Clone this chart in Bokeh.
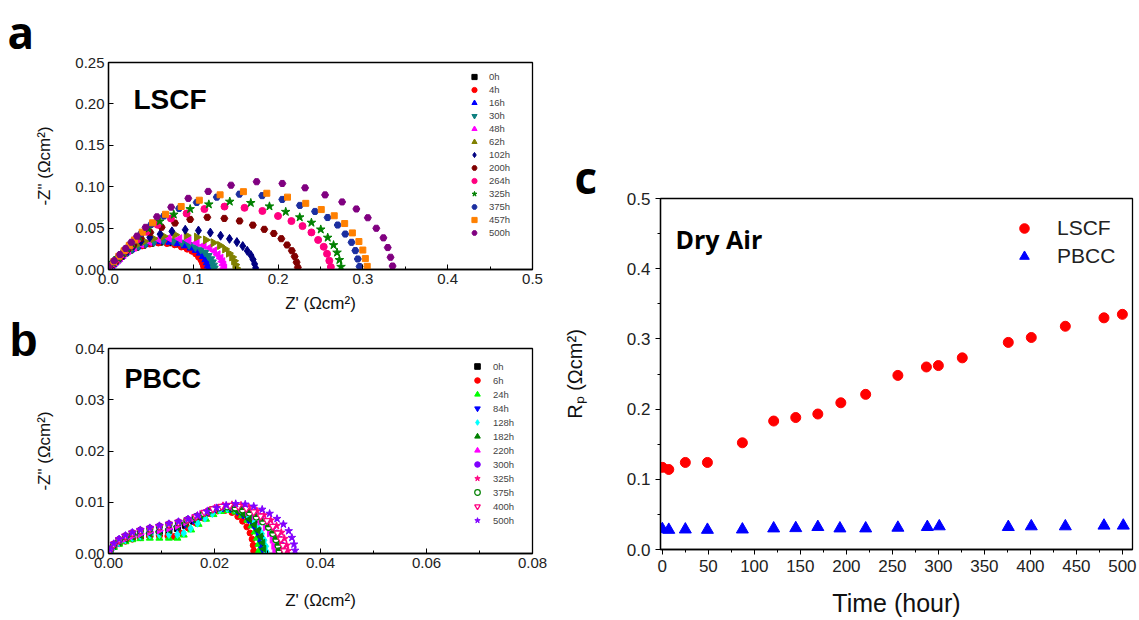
import math
from bokeh.plotting import figure
from bokeh.models import Range1d, SingleIntervalTicker, NumeralTickFormatter, Legend, LegendItem, Label
from bokeh.layouts import row, column
from bokeh.embed import file_html
from bokeh.resources import INLINE

# ---------------- Panel a : LSCF impedance spectra (Z', -Z'') ----------------
a_labels = ["0h", "4h", "16h", "30h", "48h", "62h", "102h", "200h", "264h", "325h", "375h", "457h", "500h"]

a_zr_0h = [0, 0.0023, 0.0046, 0.0070, 0.0093, 0.0116, 0.0151, 0.0197, 0.0255, 0.0325, 0.0406, 0.0499, 0.0603, 0.0708, 0.0800, 0.0882, 0.0951, 0.1009, 0.1056, 0.1090, 0.1119, 0.1137, 0.1148, 0.1157]
a_zi_0h = [0.0010, 0.0033, 0.0056, 0.0079, 0.0102, 0.0125, 0.0158, 0.0198, 0.0234, 0.0267, 0.0294, 0.0317, 0.0330, 0.0323, 0.0307, 0.0281, 0.0254, 0.0228, 0.0195, 0.0155, 0.0119, 0.0083, 0.0046, 0.0013]
a_zr_4h = [0, 0.0023, 0.0045, 0.0068, 0.0090, 0.0113, 0.0147, 0.0192, 0.0249, 0.0316, 0.0396, 0.0486, 0.0588, 0.0689, 0.0780, 0.0859, 0.0927, 0.0983, 0.1028, 0.1062, 0.1090, 0.1107, 0.1119, 0.1127]
a_zi_4h = [0.0010, 0.0032, 0.0054, 0.0077, 0.0099, 0.0122, 0.0154, 0.0192, 0.0227, 0.0259, 0.0285, 0.0307, 0.0320, 0.0314, 0.0298, 0.0272, 0.0246, 0.0221, 0.0189, 0.0150, 0.0115, 0.0080, 0.0045, 0.0013]
a_zr_16h = [0, 0.0024, 0.0048, 0.0071, 0.0095, 0.0119, 0.0155, 0.0202, 0.0262, 0.0333, 0.0417, 0.0512, 0.0619, 0.0726, 0.0821, 0.0904, 0.0976, 0.1035, 0.1083, 0.1119, 0.1148, 0.1166, 0.1178, 0.1186]
a_zi_16h = [0.0010, 0.0034, 0.0058, 0.0082, 0.0105, 0.0129, 0.0163, 0.0204, 0.0241, 0.0275, 0.0303, 0.0326, 0.0340, 0.0333, 0.0316, 0.0289, 0.0262, 0.0235, 0.0201, 0.0160, 0.0122, 0.0085, 0.0048, 0.0014]
a_zr_30h = [0, 0.0025, 0.0050, 0.0075, 0.0100, 0.0125, 0.0163, 0.0213, 0.0275, 0.0350, 0.0438, 0.0538, 0.0650, 0.0763, 0.0863, 0.0950, 0.1025, 0.1088, 0.1138, 0.1175, 0.1206, 0.1225, 0.1238, 0.1246]
a_zi_30h = [0.0011, 0.0035, 0.0060, 0.0084, 0.0109, 0.0133, 0.0168, 0.0210, 0.0249, 0.0284, 0.0312, 0.0336, 0.0350, 0.0343, 0.0326, 0.0298, 0.0270, 0.0242, 0.0207, 0.0165, 0.0126, 0.0088, 0.0049, 0.0014]
a_zr_48h = [0, 0.0027, 0.0055, 0.0082, 0.0110, 0.0137, 0.0178, 0.0233, 0.0301, 0.0384, 0.0480, 0.0589, 0.0712, 0.0836, 0.0945, 0.1041, 0.1123, 0.1192, 0.1247, 0.1288, 0.1322, 0.1343, 0.1356, 0.1366]
a_zi_48h = [0.0011, 0.0038, 0.0065, 0.0091, 0.0118, 0.0144, 0.0182, 0.0228, 0.0270, 0.0308, 0.0338, 0.0365, 0.0380, 0.0372, 0.0353, 0.0323, 0.0293, 0.0262, 0.0224, 0.0179, 0.0137, 0.0095, 0.0053, 0.0015]
a_zr_62h = [0, 0.0030, 0.0060, 0.0091, 0.0121, 0.0151, 0.0196, 0.0257, 0.0332, 0.0423, 0.0529, 0.0649, 0.0785, 0.0921, 0.1042, 0.1148, 0.1238, 0.1314, 0.1374, 0.1419, 0.1457, 0.1480, 0.1495, 0.1505]
a_zi_62h = [0.0013, 0.0042, 0.0071, 0.0101, 0.0130, 0.0160, 0.0202, 0.0252, 0.0298, 0.0340, 0.0374, 0.0403, 0.0420, 0.0412, 0.0391, 0.0357, 0.0323, 0.0290, 0.0248, 0.0197, 0.0151, 0.0105, 0.0059, 0.0017]
a_zr_102h = [0, 0.0035, 0.0070, 0.0104, 0.0139, 0.0174, 0.0226, 0.0296, 0.0383, 0.0487, 0.0609, 0.0748, 0.0905, 0.1061, 0.1201, 0.1322, 0.1427, 0.1514, 0.1583, 0.1636, 0.1679, 0.1705, 0.1723, 0.1735]
a_zi_102h = [0.0014, 0.0048, 0.0082, 0.0115, 0.0149, 0.0182, 0.0230, 0.0288, 0.0341, 0.0389, 0.0427, 0.0461, 0.0480, 0.0470, 0.0446, 0.0408, 0.0370, 0.0331, 0.0283, 0.0226, 0.0173, 0.0120, 0.0067, 0.0019]
a_zr_200h = [0, 0.0045, 0.0090, 0.0134, 0.0179, 0.0224, 0.0291, 0.0381, 0.0493, 0.0627, 0.0784, 0.0963, 0.1165, 0.1366, 0.1546, 0.1702, 0.1837, 0.1949, 0.2038, 0.2106, 0.2162, 0.2195, 0.2218, 0.2233]
a_zi_200h = [0.0019, 0.0063, 0.0107, 0.0151, 0.0195, 0.0239, 0.0302, 0.0378, 0.0447, 0.0510, 0.0561, 0.0605, 0.0630, 0.0617, 0.0586, 0.0536, 0.0485, 0.0435, 0.0372, 0.0296, 0.0227, 0.0158, 0.0088, 0.0025]
a_zr_264h = [0, 0.0053, 0.0105, 0.0158, 0.0210, 0.0263, 0.0342, 0.0447, 0.0579, 0.0736, 0.0921, 0.1131, 0.1368, 0.1604, 0.1815, 0.1999, 0.2157, 0.2288, 0.2393, 0.2472, 0.2538, 0.2577, 0.2604, 0.2622]
a_zi_264h = [0.0023, 0.0076, 0.0129, 0.0182, 0.0236, 0.0289, 0.0365, 0.0456, 0.0540, 0.0616, 0.0676, 0.0730, 0.0760, 0.0745, 0.0707, 0.0646, 0.0585, 0.0524, 0.0448, 0.0357, 0.0274, 0.0190, 0.0106, 0.0030]
a_zr_325h = [0, 0.0055, 0.0110, 0.0165, 0.0220, 0.0275, 0.0358, 0.0468, 0.0605, 0.0770, 0.0963, 0.1183, 0.1430, 0.1678, 0.1898, 0.2090, 0.2255, 0.2393, 0.2503, 0.2585, 0.2654, 0.2695, 0.2723, 0.2742]
a_zi_325h = [0.0025, 0.0082, 0.0139, 0.0197, 0.0254, 0.0312, 0.0394, 0.0492, 0.0582, 0.0664, 0.0730, 0.0787, 0.0820, 0.0804, 0.0763, 0.0697, 0.0631, 0.0566, 0.0484, 0.0385, 0.0295, 0.0205, 0.0115, 0.0033]
a_zr_375h = [0, 0.0059, 0.0119, 0.0178, 0.0238, 0.0297, 0.0386, 0.0505, 0.0653, 0.0832, 0.1040, 0.1277, 0.1544, 0.1812, 0.2049, 0.2257, 0.2435, 0.2584, 0.2703, 0.2792, 0.2866, 0.2911, 0.2940, 0.2961]
a_zi_375h = [0.0027, 0.0091, 0.0155, 0.0218, 0.0282, 0.0346, 0.0437, 0.0546, 0.0646, 0.0737, 0.0810, 0.0874, 0.0910, 0.0892, 0.0846, 0.0774, 0.0701, 0.0628, 0.0537, 0.0428, 0.0328, 0.0228, 0.0127, 0.0036]
a_zr_457h = [0, 0.0061, 0.0122, 0.0184, 0.0245, 0.0306, 0.0398, 0.0520, 0.0673, 0.0857, 0.1071, 0.1316, 0.1591, 0.1867, 0.2111, 0.2326, 0.2509, 0.2662, 0.2785, 0.2876, 0.2953, 0.2999, 0.3029, 0.3051]
a_zi_457h = [0.0028, 0.0094, 0.0160, 0.0226, 0.0291, 0.0357, 0.0451, 0.0564, 0.0667, 0.0761, 0.0837, 0.0902, 0.0940, 0.0921, 0.0874, 0.0799, 0.0724, 0.0649, 0.0555, 0.0442, 0.0338, 0.0235, 0.0132, 0.0038]
a_zr_500h = [0, 0.0067, 0.0134, 0.0202, 0.0269, 0.0336, 0.0437, 0.0571, 0.0739, 0.0941, 0.1176, 0.1445, 0.1747, 0.2050, 0.2318, 0.2554, 0.2755, 0.2923, 0.3058, 0.3158, 0.3242, 0.3293, 0.3326, 0.3350]
a_zi_500h = [0.0032, 0.0106, 0.0180, 0.0254, 0.0329, 0.0403, 0.0509, 0.0636, 0.0753, 0.0859, 0.0943, 0.1018, 0.1060, 0.1039, 0.0986, 0.0901, 0.0816, 0.0731, 0.0625, 0.0498, 0.0382, 0.0265, 0.0148, 0.0042]

# ---------------- Panel b : PBCC impedance spectra ----------------
b_labels = ["0h", "6h", "24h", "84h", "128h", "182h", "220h", "300h", "325h", "375h", "400h", "500h"]

b_zr_0h = [0.0003, 0.0010, 0.0020, 0.0032, 0.0045, 0.0060, 0.0078, 0.0096, 0.0114, 0.0130, 0.0145, 0.0160, 0.0174, 0.0188, 0.0202, 0.0216, 0.0230, 0.0243, 0.0255, 0.0266, 0.0275, 0.0282, 0.0287, 0.0290, 0.0292]
b_zi_0h = [0.0006, 0.0014, 0.0021, 0.0027, 0.0031, 0.0034, 0.0037, 0.0040, 0.0044, 0.0049, 0.0055, 0.0063, 0.0071, 0.0079, 0.0085, 0.0088, 0.0087, 0.0083, 0.0076, 0.0067, 0.0057, 0.0045, 0.0033, 0.0021, 0.0009]
b_zr_6h = [0.0003, 0.0010, 0.0020, 0.0032, 0.0045, 0.0060, 0.0078, 0.0096, 0.0112, 0.0124, 0.0136, 0.0150, 0.0164, 0.0178, 0.0192, 0.0206, 0.0220, 0.0233, 0.0244, 0.0253, 0.0261, 0.0267, 0.0271, 0.0273, 0.0274]
b_zi_6h = [0.0006, 0.0013, 0.0019, 0.0024, 0.0028, 0.0031, 0.0033, 0.0034, 0.0034, 0.0033, 0.0040, 0.0050, 0.0060, 0.0070, 0.0078, 0.0083, 0.0084, 0.0080, 0.0072, 0.0063, 0.0052, 0.0040, 0.0028, 0.0016, 0.0005]
b_zr_24h = [0.0003, 0.0010, 0.0020, 0.0032, 0.0045, 0.0060, 0.0078, 0.0096, 0.0114, 0.0130, 0.0142, 0.0156, 0.0170, 0.0184, 0.0198, 0.0212, 0.0226, 0.0240, 0.0252, 0.0262, 0.0270, 0.0276, 0.0280, 0.0283, 0.0284]
b_zi_24h = [0.0005, 0.0012, 0.0018, 0.0023, 0.0027, 0.0029, 0.0030, 0.0030, 0.0030, 0.0030, 0.0036, 0.0046, 0.0057, 0.0067, 0.0076, 0.0082, 0.0084, 0.0081, 0.0074, 0.0065, 0.0054, 0.0042, 0.0030, 0.0018, 0.0006]
b_zr_84h = [0.0003, 0.0010, 0.0020, 0.0032, 0.0045, 0.0060, 0.0078, 0.0096, 0.0114, 0.0130, 0.0145, 0.0160, 0.0174, 0.0188, 0.0202, 0.0216, 0.0230, 0.0243, 0.0254, 0.0264, 0.0273, 0.0280, 0.0285, 0.0288, 0.0290]
b_zi_84h = [0.0006, 0.0014, 0.0021, 0.0027, 0.0031, 0.0034, 0.0037, 0.0040, 0.0044, 0.0050, 0.0057, 0.0065, 0.0073, 0.0081, 0.0087, 0.0089, 0.0087, 0.0082, 0.0075, 0.0066, 0.0056, 0.0045, 0.0033, 0.0021, 0.0009]
b_zr_128h = [0.0003, 0.0010, 0.0020, 0.0032, 0.0045, 0.0060, 0.0078, 0.0096, 0.0114, 0.0130, 0.0142, 0.0155, 0.0168, 0.0182, 0.0196, 0.0210, 0.0224, 0.0238, 0.0251, 0.0263, 0.0273, 0.0282, 0.0289, 0.0294, 0.0297, 0.0298]
b_zi_128h = [0.0006, 0.0014, 0.0021, 0.0027, 0.0031, 0.0034, 0.0036, 0.0037, 0.0037, 0.0037, 0.0040, 0.0049, 0.0059, 0.0069, 0.0078, 0.0085, 0.0088, 0.0087, 0.0082, 0.0074, 0.0064, 0.0052, 0.0039, 0.0026, 0.0014, 0.0004]
b_zr_182h = [0.0003, 0.0010, 0.0020, 0.0032, 0.0045, 0.0060, 0.0078, 0.0096, 0.0114, 0.0130, 0.0145, 0.0160, 0.0174, 0.0188, 0.0202, 0.0216, 0.0230, 0.0243, 0.0255, 0.0266, 0.0275, 0.0282, 0.0287, 0.0291, 0.0293]
b_zi_182h = [0.0006, 0.0015, 0.0022, 0.0028, 0.0033, 0.0036, 0.0039, 0.0042, 0.0046, 0.0052, 0.0059, 0.0067, 0.0075, 0.0083, 0.0088, 0.0090, 0.0088, 0.0083, 0.0076, 0.0067, 0.0056, 0.0045, 0.0033, 0.0021, 0.0009]
b_zr_220h = [0.0003, 0.0010, 0.0020, 0.0032, 0.0045, 0.0060, 0.0078, 0.0096, 0.0114, 0.0130, 0.0146, 0.0161, 0.0176, 0.0191, 0.0206, 0.0221, 0.0236, 0.0250, 0.0263, 0.0275, 0.0286, 0.0296, 0.0304, 0.0309, 0.0312, 0.0314]
b_zi_220h = [0.0006, 0.0015, 0.0023, 0.0029, 0.0034, 0.0038, 0.0042, 0.0045, 0.0049, 0.0054, 0.0061, 0.0069, 0.0077, 0.0084, 0.0089, 0.0092, 0.0091, 0.0087, 0.0080, 0.0072, 0.0062, 0.0051, 0.0039, 0.0027, 0.0015, 0.0005]
b_zr_300h = [0.0003, 0.0010, 0.0020, 0.0032, 0.0045, 0.0060, 0.0078, 0.0096, 0.0114, 0.0132, 0.0150, 0.0166, 0.0182, 0.0198, 0.0214, 0.0230, 0.0246, 0.0260, 0.0274, 0.0287, 0.0299, 0.0310, 0.0318, 0.0324, 0.0328, 0.0330]
b_zi_300h = [0.0008, 0.0019, 0.0028, 0.0035, 0.0041, 0.0046, 0.0050, 0.0054, 0.0058, 0.0062, 0.0067, 0.0073, 0.0080, 0.0087, 0.0091, 0.0092, 0.0090, 0.0086, 0.0080, 0.0072, 0.0063, 0.0052, 0.0040, 0.0028, 0.0016, 0.0005]
b_zr_325h = [0.0003, 0.0010, 0.0020, 0.0032, 0.0045, 0.0060, 0.0078, 0.0096, 0.0114, 0.0132, 0.0150, 0.0167, 0.0184, 0.0200, 0.0216, 0.0233, 0.0250, 0.0265, 0.0280, 0.0293, 0.0306, 0.0317, 0.0326, 0.0332, 0.0336, 0.0338]
b_zi_325h = [0.0007, 0.0018, 0.0027, 0.0034, 0.0040, 0.0045, 0.0049, 0.0053, 0.0057, 0.0061, 0.0066, 0.0073, 0.0081, 0.0088, 0.0093, 0.0095, 0.0094, 0.0090, 0.0083, 0.0075, 0.0065, 0.0054, 0.0041, 0.0029, 0.0016, 0.0005]
b_zr_375h = [0.0003, 0.0010, 0.0020, 0.0032, 0.0045, 0.0060, 0.0078, 0.0096, 0.0114, 0.0132, 0.0148, 0.0164, 0.0179, 0.0194, 0.0209, 0.0224, 0.0239, 0.0253, 0.0266, 0.0279, 0.0291, 0.0302, 0.0310, 0.0316, 0.0320, 0.0322]
b_zi_375h = [0.0007, 0.0017, 0.0026, 0.0033, 0.0039, 0.0044, 0.0048, 0.0052, 0.0056, 0.0060, 0.0065, 0.0071, 0.0078, 0.0085, 0.0089, 0.0091, 0.0089, 0.0085, 0.0079, 0.0071, 0.0062, 0.0051, 0.0039, 0.0027, 0.0015, 0.0005]
b_zr_400h = [0.0003, 0.0010, 0.0020, 0.0032, 0.0045, 0.0060, 0.0078, 0.0096, 0.0114, 0.0132, 0.0149, 0.0165, 0.0181, 0.0197, 0.0213, 0.0229, 0.0245, 0.0260, 0.0274, 0.0287, 0.0299, 0.0310, 0.0319, 0.0325, 0.0329, 0.0331]
b_zi_400h = [0.0007, 0.0018, 0.0027, 0.0034, 0.0040, 0.0045, 0.0049, 0.0053, 0.0057, 0.0061, 0.0066, 0.0072, 0.0080, 0.0087, 0.0092, 0.0094, 0.0092, 0.0088, 0.0081, 0.0073, 0.0064, 0.0053, 0.0040, 0.0028, 0.0016, 0.0005]
b_zr_500h = [0.0003, 0.0010, 0.0020, 0.0032, 0.0045, 0.0060, 0.0078, 0.0096, 0.0114, 0.0132, 0.0150, 0.0168, 0.0186, 0.0204, 0.0222, 0.0240, 0.0258, 0.0274, 0.0290, 0.0304, 0.0318, 0.0330, 0.0340, 0.0346, 0.0350, 0.0352]
b_zi_500h = [0.0008, 0.0019, 0.0028, 0.0035, 0.0041, 0.0046, 0.0050, 0.0054, 0.0058, 0.0062, 0.0067, 0.0074, 0.0082, 0.0089, 0.0094, 0.0097, 0.0096, 0.0092, 0.0086, 0.0078, 0.0068, 0.0057, 0.0044, 0.0031, 0.0018, 0.0006]

# ---------------- Panel c : Rp versus time ----------------
time_lscf = [0, 7, 25, 49, 87, 121, 145, 169, 194, 221, 256, 287, 300, 326, 376, 401, 438, 480, 500]
rp_lscf = [0.117, 0.114, 0.124, 0.124, 0.152, 0.183, 0.188, 0.193, 0.209, 0.221, 0.248, 0.260, 0.262, 0.273, 0.295, 0.302, 0.318, 0.330, 0.335]
time_pbcc = [0, 7, 25, 49, 87, 121, 145, 169, 193, 221, 256, 288, 301, 376, 401, 438, 480, 501]
rp_pbcc = [0.029, 0.028, 0.0285, 0.028, 0.0285, 0.030, 0.0304, 0.032, 0.030, 0.030, 0.031, 0.032, 0.033, 0.032, 0.033, 0.033, 0.034, 0.034]

a_x = [a_zr_0h, a_zr_4h, a_zr_16h, a_zr_30h, a_zr_48h, a_zr_62h, a_zr_102h, a_zr_200h, a_zr_264h, a_zr_325h, a_zr_375h, a_zr_457h, a_zr_500h]
a_y = [a_zi_0h, a_zi_4h, a_zi_16h, a_zi_30h, a_zi_48h, a_zi_62h, a_zi_102h, a_zi_200h, a_zi_264h, a_zi_325h, a_zi_375h, a_zi_457h, a_zi_500h]
b_x = [b_zr_0h, b_zr_6h, b_zr_24h, b_zr_84h, b_zr_128h, b_zr_182h, b_zr_220h, b_zr_300h, b_zr_325h, b_zr_375h, b_zr_400h, b_zr_500h]
b_y = [b_zi_0h, b_zi_6h, b_zi_24h, b_zi_84h, b_zi_128h, b_zi_182h, b_zi_220h, b_zi_300h, b_zi_325h, b_zi_375h, b_zi_400h, b_zi_500h]

# styles (marker, colour, angle, size)
A_STYLE = [("square", "#000000", 0, 6), ("circle", "#FF0000", 0, 6), ("triangle", "#0000FF", 0, 8),
           ("inverted_triangle", "#0E8080", 0, 8), ("triangle", "#FF00FF", math.pi / 2, 8),
           ("triangle", "#808000", -math.pi / 2, 8), ("diamond", "#000080", 0, 9), ("hex", "#800000", 0, 7),
           ("circle", "#FF0080", 0, 7), ("star", "#008000", 0, 9), ("hex", "#1C2FA0", 0, 7),
           ("square", "#FF8000", 0, 6), ("hex", "#800080", 0, 7)]
B_STYLE = [("square", "#000000", 0, 6), ("circle", "#FF0000", 0, 6), ("triangle", "#00FF00", 0, 7),
           ("inverted_triangle", "#0000FF", 0, 7), ("diamond", "#00FFFF", 0, 8), ("triangle", "#008000", math.pi / 2, 7),
           ("triangle", "#FF00FF", -math.pi / 2, 7), ("circle", "#8000FF", 0, 6), ("star", "#FF0080", 0, 8),
           ("halfcircle", "#008000", 0, 6), ("open_inverted_triangle", "#FF0080", 0, 7), ("star", "#8000FF", 0, 8)]

SANS = "Liberation Sans"
LETTER = "Open Sans"


def make_fig(w, h, xr, yr, bl, br, bt, bb):
    p = figure(width=w, height=h, x_range=Range1d(*xr), y_range=Range1d(*yr),
               output_backend="svg", toolbar_location=None,
               min_border_left=bl, min_border_right=br, min_border_top=bt, min_border_bottom=bb)
    p.xgrid.visible = False
    p.ygrid.visible = False
    p.outline_line_color = "black"
    p.outline_line_width = 1.3
    p.outline_line_alpha = 1.0
    p.background_fill_color = "white"
    p.border_fill_color = "white"
    for ax in (p.xaxis[0], p.yaxis[0]):
        ax.axis_line_width = 1.3
        ax.axis_line_color = "black"
        ax.major_tick_line_color = "black"
        ax.minor_tick_line_color = "black"
        ax.major_label_text_font = SANS
        ax.axis_label_text_font = SANS
        ax.axis_label_text_font_style = "normal"
        ax.major_label_text_color = "#222222"
        ax.axis_label_text_color = "#111111"
    return p


def panel_letter(p, letter, offset, standoff, font=LETTER, valign="bottom", size="44px"):
    p.title.text = letter
    p.title.align = "left"
    p.title.vertical_align = valign
    p.title.offset = offset
    p.title.standoff = standoff
    p.title.text_font = font
    p.title.text_font_style = "bold"
    p.title.text_font_size = size
    p.title.text_color = "black"


def style_small(p, xint, yint, xfmt, yfmt, xstand):
    p.xaxis.ticker = SingleIntervalTicker(interval=xint, num_minor_ticks=2)
    p.yaxis.ticker = SingleIntervalTicker(interval=yint, num_minor_ticks=0)
    p.xaxis.formatter = NumeralTickFormatter(format=xfmt)
    p.yaxis.formatter = NumeralTickFormatter(format=yfmt)
    for ax in (p.xaxis[0], p.yaxis[0]):
        ax.major_tick_in = 5
        ax.major_tick_out = 0
        ax.minor_tick_in = 3
        ax.minor_tick_out = 0
        ax.major_label_text_font_size = "15px"
        ax.axis_label_text_font_size = "17px"
        ax.major_label_standoff = 4
    p.xaxis.axis_label_standoff = xstand
    p.yaxis.axis_label_standoff = 18


def add_series(p, xs, ys, style):
    marker, color, angle, size = style
    if marker == "halfcircle":
        r = p.scatter(xs, ys, marker="circle", size=size, fill_color="white", line_color=color, line_width=1.2)
        p.wedge(x=xs, y=ys, radius=size / 2.0, radius_units="screen", start_angle=0, end_angle=math.pi,
                fill_color=color, line_color=None)
    elif marker == "open_inverted_triangle":
        r = p.scatter(xs, ys, marker="inverted_triangle", size=size, fill_color="white", line_color=color, line_width=1.3)
    else:
        r = p.scatter(xs, ys, marker=marker, size=size, angle=angle, fill_color=color, line_color=color)
    return [r]


def small_legend(p, items, vx, vy, standoff, gh):
    lg = Legend(items=items, location=(vx, vy), orientation="vertical",
                glyph_width=16, glyph_height=gh, label_height=gh, spacing=0, padding=0, margin=0,
                label_standoff=standoff, label_text_font=SANS, label_text_font_size="9.5px",
                label_text_color="#444444", label_text_baseline="middle",
                border_line_color=None, background_fill_alpha=0)
    p.add_layout(lg)


# ---- panel a
pa = make_fig(560, 315, (0, 0.5), (0, 0.25), 108, 28, 62, 45)
style_small(pa, 0.1, 0.05, "0.0", "0.00", 7)
pa.xaxis.axis_label = "Z' (\u03a9cm\u00b2)"
pa.yaxis.axis_label = "-Z\" (\u03a9cm\u00b2)"
items_a = []
for lab, xs, ys, st in zip(a_labels, a_x, a_y, A_STYLE):
    items_a.append(LegendItem(label=lab, renderers=add_series(pa, xs, ys, st)))
small_legend(pa, items_a, 358, 30, 7, 13)
pa.add_layout(Label(x=0.0295, y=0.2055, text="LSCF", text_font=SANS, text_font_style="bold",
                    text_font_size="28px", text_color="black", text_baseline="alphabetic"))
panel_letter(pa, "a", -101, 0, valign="middle")

# ---- panel b
pb = make_fig(560, 305, (0, 0.08), (0, 0.04), 108, 28, 33, 67)
style_small(pb, 0.02, 0.01, "0.00", "0.00", 20)
pb.xaxis.axis_label = "Z' (\u03a9cm\u00b2)"
pb.yaxis.axis_label = "-Z\" (\u03a9cm\u00b2)"
items_b = []
for lab, xs, ys, st in zip(b_labels, b_x, b_y, B_STYLE):
    items_b.append(LegendItem(label=lab, renderers=add_series(pb, xs, ys, st)))
small_legend(pb, items_b, 361, 26, 8, 14)
pb.add_layout(Label(x=0.0030, y=0.0341, text="PBCC", text_font=SANS, text_font_style="bold",
                    text_font_size="27px", text_color="black", text_baseline="alphabetic"))
panel_letter(pb, "b", -99, -34, font=SANS, size="46px")

# ---- panel c
pc = make_fig(579, 620, (-2, 511), (0, 0.5), 99, 7, 198, 71)
pc.xaxis.ticker = SingleIntervalTicker(interval=50, num_minor_ticks=2)
pc.yaxis.ticker = SingleIntervalTicker(interval=0.1, num_minor_ticks=2)
pc.yaxis.formatter = NumeralTickFormatter(format="0.0")
for ax in (pc.xaxis[0], pc.yaxis[0]):
    ax.major_tick_in = 0
    ax.major_tick_out = 5
    ax.minor_tick_in = 0
    ax.minor_tick_out = 3
    ax.major_label_text_font_size = "17px"
    ax.major_label_standoff = 5
pc.xaxis.axis_label = "Time (hour)"
pc.xaxis.axis_label_text_font_size = "25px"
pc.xaxis.axis_label_standoff = 14
pc.yaxis.axis_label = "R\u209a (\u03a9cm\u00b2)"
pc.yaxis.axis_label_text_font_size = "20px"
pc.yaxis.axis_label_standoff = 38
r_l = pc.scatter(time_lscf, rp_lscf, marker="circle", size=10, fill_color="#FF0000", line_color="#FF0000")
r_p = pc.scatter(time_pbcc, rp_pbcc, marker="triangle", size=12, fill_color="#0000FF", line_color="#0000FF")
lc = Legend(items=[LegendItem(label="LSCF", renderers=[r_l]), LegendItem(label="PBCC", renderers=[r_p])],
            location=(352, 279), orientation="vertical", glyph_width=24, glyph_height=28, label_height=28,
            spacing=0, padding=0, margin=0, label_standoff=21, label_text_font=SANS,
            label_text_font_size="21px", label_text_color="#222222", label_text_baseline="middle",
            border_line_color=None, background_fill_alpha=0)
pc.add_layout(lc)
pc.add_layout(Label(x=14.3, y=0.4416, text="Dry Air", text_font=LETTER, text_font_style="bold",
                    text_font_size="25px", text_color="black", text_baseline="alphabetic"))
panel_letter(pc, "c", -86, -16)

layout = row(column(pa, pb), pc)
open("out.html", "w").write(file_html(layout, INLINE))
